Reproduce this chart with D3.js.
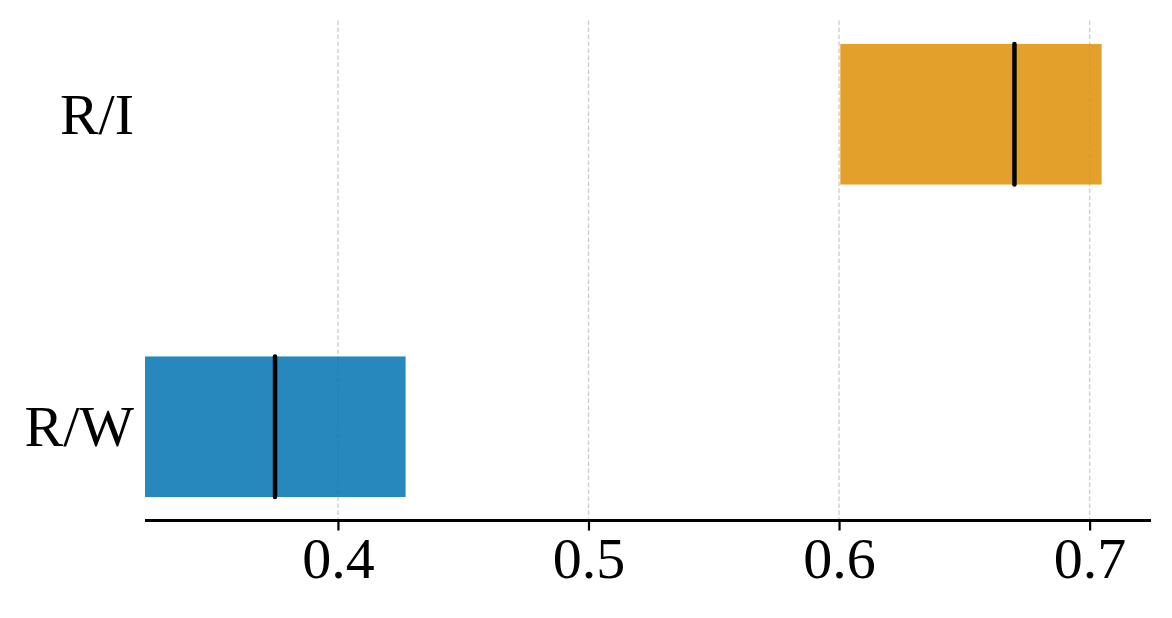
<!DOCTYPE html>
<html>
<head>
<meta charset="utf-8">
<script src="https://cdn.jsdelivr.net/npm/d3@7"></script>
<style>
  html, body { margin: 0; padding: 0; background: #fff; }
  svg { display: block; }
</style>
</head>
<body>
<svg id="chart" width="1172" height="618"></svg>
<script>
const categories = ["R/W", "R/I"];
const lows = [0.323, 0.6005];
const highs = [0.427, 0.7048];
const medians = [0.3749, 0.670];
const colors = ["#0173b2", "#de8f05"];
const tickValues = [0.4, 0.5, 0.6, 0.7];
const tickLabels = ["0.4", "0.5", "0.6", "0.7"];

const svg = d3.select("#chart");
const x = d3.scaleLinear().domain([0.323, 0.7245]).range([145, 1151]);
const y = d3.scaleLinear().domain([-0.3, 1.3]).range([520.5, 20.5]);
const halfH = 0.225;

const data = categories.map((c, i) => ({ c, i, lo: lows[i], hi: highs[i], med: medians[i], col: colors[i] }));

// grid
svg.append("g").selectAll("line").data(tickValues).join("line")
  .attr("x1", d => x(d)).attr("x2", d => x(d))
  .attr("y1", y(1.3)).attr("y2", y(-0.3))
  .attr("stroke", "#cfcfcf").attr("stroke-width", 1.4)
  .attr("stroke-dasharray", "4.5,2.5");

// bars
svg.append("g").selectAll("rect").data(data).join("rect")
  .attr("x", d => x(d.lo))
  .attr("width", d => x(d.hi) - x(d.lo))
  .attr("y", d => y(d.i + halfH))
  .attr("height", d => y(d.i - halfH) - y(d.i + halfH))
  .attr("fill", d => d.col)
  .attr("fill-opacity", 0.85);

// medians
svg.append("g").selectAll("line").data(data).join("line")
  .attr("x1", d => x(d.med)).attr("x2", d => x(d.med))
  .attr("y1", d => y(d.i + halfH)).attr("y2", d => y(d.i - halfH))
  .attr("stroke", "#000").attr("stroke-width", 4.5)
  .attr("stroke-linecap", "round");

// x axis
const xAxis = d3.axisBottom(x).tickValues(tickValues)
  .tickFormat((d, i) => tickLabels[i]).tickSize(10).tickPadding(6);
const gx = svg.append("g").attr("transform", `translate(0,${y(-0.3)})`).call(xAxis);
gx.select(".domain").attr("stroke", "#000").attr("stroke-width", 3).attr("d", `M${x.range()[0]},0H${x.range()[1]}`);
gx.selectAll(".tick line").attr("stroke", "#000").attr("stroke-width", 2.2);
gx.selectAll(".tick text")
  .attr("font-family", "'Liberation Serif', 'Times New Roman', serif")
  .attr("font-size", 58).attr("fill", "#000");

// y labels
svg.append("g").selectAll("text").data(data).join("text")
  .attr("x", 134)
  .attr("y", d => y(d.i))
  .attr("dy", "0.34em")
  .attr("text-anchor", "end")
  .attr("font-family", "'Liberation Serif', 'Times New Roman', serif")
  .attr("font-size", 58)
  .attr("fill", "#000")
  .text(d => d.c);
</script>
</body>
</html>
